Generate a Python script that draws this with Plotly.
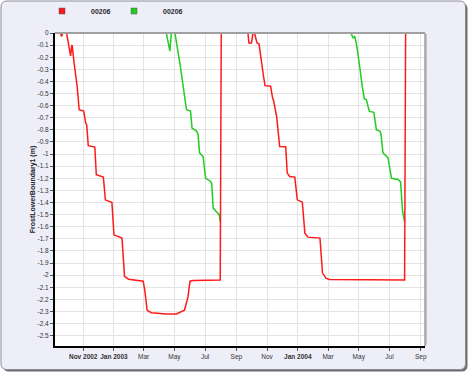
import plotly.graph_objects as go

# ---------------- data ----------------
red_dates = ["2002-09-06","2002-09-17","2002-09-19","2002-09-21","2002-09-29","2002-10-07","2002-10-09","2002-10-10",
             "2002-10-14","2002-10-20","2002-10-24","2002-11-02","2002-11-06","2002-11-08","2002-11-11","2002-11-24",
             "2002-11-27","2002-12-11","2002-12-15","2002-12-28","2003-01-01","2003-01-17","2003-01-22","2003-01-30",
             "2003-02-28","2003-03-03","2003-03-08","2003-03-16","2003-04-15","2003-05-05","2003-05-21","2003-05-28",
             "2003-06-01","2003-06-07","2003-07-31","2003-08-02",
             "2003-09-24","2003-09-26","2003-10-01","2003-10-04","2003-10-07","2003-10-12","2003-10-16","2003-10-19",
             "2003-10-23","2003-10-25","2003-10-28","2003-11-08","2003-11-12","2003-11-14","2003-11-20","2003-11-23",
             "2003-11-26","2003-12-08","2003-12-11","2003-12-16","2003-12-26","2003-12-31","2004-01-10","2004-01-15",
             "2004-01-21","2004-02-14","2004-02-19","2004-02-26","2004-03-04","2004-07-31","2004-08-02","2004-09-09"]
red_vals = [0, 0, -0.03, 0, 0, -0.19, -0.11, -0.10, -0.25, -0.44, -0.634, -0.645, -0.744, -0.76, -0.93, -0.942,
            -1.17, -1.19, -1.378, -1.40, -1.667, -1.694, -2.01, -2.033, -2.05, -2.12, -2.29, -2.31, -2.32, -2.32,
            -2.29, -2.18, -2.05, -2.045, -2.04, 0,
            0, -0.083, -0.083, 0, 0, -0.083, -0.09, -0.19, -0.33, -0.36, -0.435, -0.44, -0.537, -0.56, -0.69, -0.80,
            -0.937, -0.94, -1.157, -1.185, -1.19, -1.378, -1.397, -1.653, -1.686, -1.694, -1.983, -2.025, -2.035,
            -2.04, 0, 0]

green_dates = ["2003-04-15","2003-04-22","2003-04-25","2003-05-02","2003-05-12","2003-05-20","2003-05-25","2003-06-02",
               "2003-06-05","2003-06-14","2003-06-17","2003-06-20","2003-06-27","2003-07-02","2003-07-10","2003-07-14",
               "2003-07-17","2003-07-23","2003-07-29","2003-07-31","2003-09-01",
               "2004-04-15","2004-04-20","2004-04-23","2004-04-26","2004-04-30","2004-05-03","2004-05-08","2004-05-12",
               "2004-05-16","2004-05-22","2004-05-31","2004-06-05","2004-06-12","2004-06-14","2004-06-18","2004-06-28",
               "2004-07-05","2004-07-18","2004-07-23","2004-07-27","2004-07-31"]
green_vals = [0, -0.15, 0, 0, -0.25, -0.47, -0.634, -0.645, -0.785, -0.81, -0.84, -0.99, -1.02, -1.20, -1.22, -1.24,
              -1.446, -1.474, -1.50, -1.557, None,
              0, -0.04, -0.03, -0.08, -0.19, -0.30, -0.44, -0.545, -0.55, -0.648, -0.655, -0.80, -0.81, -0.83, -0.99,
              -1.03, -1.20, -1.21, -1.23, -1.474, -1.557]

series_names = ["00206", "00206"]
series_colors = ["#FF1A1A", "#22CC22"]

x_tick_vals = ["2002-11-01","2003-01-01","2003-03-01","2003-05-01","2003-07-01","2003-09-01",
               "2003-11-01","2004-01-01","2004-03-01","2004-05-01","2004-07-01","2004-09-01"]
x_tick_text = ["<b>Nov 2002</b>","<b>Jan 2003</b>","Mar","May","Jul","Sep",
               "Nov","<b>Jan 2004</b>","Mar","May","Jul","Sep"]
y_tick_vals = [round(-0.1 * i, 1) for i in range(26)]
y_tick_text = ["0","-0.1","-0.2","-0.3","-0.4","-0.5","-0.6","-0.7","-0.8","-0.9","-1","-1.1","-1.2","-1.3",
               "-1.4","-1.5","-1.6","-1.7","-1.8","-1.9","-2","-2.1","-2.2","-2.3","-2.4","-2.5"]
y_title = "FrostLowerBoundary1 (m)"

# ---------------- figure ----------------
W, H = 468, 373
L, R, T, B = 55, 43, 33, 27
pw, ph = W - L - R, H - T - B

def px(x):
    return (x - L) / pw

def py(y):
    return (H - B - y) / ph

fig = go.Figure()
fig.add_trace(go.Scatter(x=green_dates, y=green_vals, mode="lines", connectgaps=False,
                         line=dict(color=series_colors[1], width=1.5), showlegend=False))
fig.add_trace(go.Scatter(x=red_dates, y=red_vals, mode="lines",
                         line=dict(color=series_colors[0], width=1.5), showlegend=False))
# legend entries (one legend box per series)
for name, col, lg in zip(series_names, series_colors, ["legend", "legend2"]):
    fig.add_trace(go.Scatter(x=[None], y=[None], mode="markers", name=name, legend=lg,
                             marker=dict(symbol="square", size=6, color=col,
                                         line=dict(color="#555555", width=0.5))))

def rounded_rect(x0, y0, x1, y1, r):
    rx, ry = r / pw, r / ph
    X0, X1 = px(x0), px(x1)
    Y0, Y1 = py(y0), py(y1)  # Y0 top, Y1 bottom
    return (f"M {X0+rx},{Y0} L {X1-rx},{Y0} Q {X1},{Y0} {X1},{Y0-ry} "
            f"L {X1},{Y1+ry} Q {X1},{Y1} {X1-rx},{Y1} L {X0+rx},{Y1} "
            f"Q {X0},{Y1} {X0},{Y1+ry} L {X0},{Y0-ry} Q {X0},{Y0} {X0+rx},{Y0} Z")

shapes = [
    dict(type="path", xref="paper", yref="paper", layer="below",
         path=rounded_rect(3, 3, 467.5, 371.5, 6), fillcolor="#6E6E6E", line=dict(width=0)),
    dict(type="path", xref="paper", yref="paper", layer="below",
         path=rounded_rect(1, 1, 465.5, 369.5, 6), fillcolor="#EEEEF9",
         line=dict(color="#8C8C94", width=1)),
    dict(type="rect", xref="paper", yref="paper", x0=px(56), x1=px(427), y0=py(345), y1=py(34),
         fillcolor="#C4C4C8", line=dict(width=0), layer="below"),
    dict(type="rect", xref="paper", yref="paper", x0=0, x1=1, y0=0, y1=1,
         fillcolor="white", line=dict(width=0), layer="below"),
    dict(type="line", xref="paper", yref="paper", x0=0, x1=1, y0=1, y1=1,
         line=dict(color="#A0A0A0", width=2), layer="above"),
    dict(type="line", xref="paper", yref="paper", x0=1, x1=1, y0=0, y1=1,
         line=dict(color="#A0A0A0", width=1.5), layer="above"),
]

def legend_cfg(xpos):
    return dict(orientation="h", xref="container", yref="container", xanchor="left", yanchor="middle",
                x=xpos, y=1 - 11 / H, bgcolor="rgba(0,0,0,0)", itemwidth=48,
                font=dict(size=7, color="#2A2A2A", family="Liberation Sans, Arial, sans-serif", weight="bold"))

fig.update_layout(
    template="none",
    width=W, height=H,
    margin=dict(l=L, r=R, t=T, b=B, autoexpand=False),
    paper_bgcolor="white",
    plot_bgcolor="white",
    font=dict(family="Liberation Sans, Arial, sans-serif", size=6.5, color="#333333"),
    showlegend=True,
    legend=legend_cfg(33 / W),
    legend2=legend_cfg(105 / W),
    shapes=shapes,
    xaxis=dict(type="date", range=["2002-09-06", "2004-09-09 12:00"], automargin=False,
               tickvals=x_tick_vals, ticktext=x_tick_text, tickangle=0,
               showgrid=True, gridcolor="#E4E4E4", gridwidth=1,
               showline=True, linecolor="black", linewidth=2,
               ticks="outside", ticklen=3, tickcolor="#555555", tickwidth=1,
               tickfont=dict(size=6.5, color="#333333"), zeroline=False),
    yaxis=dict(range=[-2.585, 0], tickvals=y_tick_vals, ticktext=y_tick_text, automargin=False,
               showgrid=True, gridcolor="#E4E4E4", gridwidth=1,
               showline=True, linecolor="black", linewidth=2,
               ticks="outside", ticklen=3, tickcolor="#555555", tickwidth=1,
               tickfont=dict(size=6.5, color="#333333"), zeroline=False,
               title=dict(text="<b>" + y_title + "</b>", font=dict(size=7, color="#222222"), standoff=0)),
)

fig.write_html("out.html")
